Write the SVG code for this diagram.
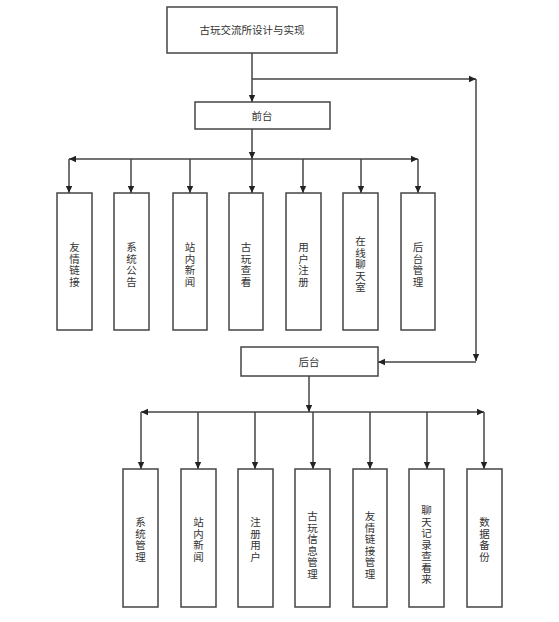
<svg xmlns="http://www.w3.org/2000/svg" width="559" height="622" viewBox="0 0 559 622">
<style>
.box{fill:#fff;stroke:#444;stroke-width:1.5}
.t{font-family:"Liberation Serif","Noto Sans CJK SC",serif;font-size:10.5px;fill:#333;text-anchor:middle}
.c{fill:none;stroke:#444;stroke-width:1.5}
</style>
<defs>
<marker id="ah" markerWidth="8" markerHeight="8" refX="7" refY="4" orient="auto" markerUnits="userSpaceOnUse">
<path d="M0,0.8 L7,4 L0,7.2 Z" fill="#222"/>
</marker>
</defs>
<rect width="559" height="622" fill="#fff"/>
<g id="connectors">
<path class="c" d="M252,53 V102" marker-end="url(#ah)"/>
<path class="c" d="M252,79 H476" marker-end="url(#ah)"/>
<path class="c" d="M476,79 V361" marker-end="url(#ah)"/>
<path class="c" d="M476,362 H378" marker-end="url(#ah)"/>
<path class="c" d="M252,129 V159" marker-end="url(#ah)"/>
<path class="c" d="M252,159 H69" marker-end="url(#ah)"/>
<path class="c" d="M252,159 H418" marker-end="url(#ah)"/>
<path class="c" d="M69,159 V193" marker-end="url(#ah)"/>
<path class="c" d="M131,159 V193" marker-end="url(#ah)"/>
<path class="c" d="M190,159 V193" marker-end="url(#ah)"/>
<path class="c" d="M252,159 V193" marker-end="url(#ah)"/>
<path class="c" d="M303,159 V193" marker-end="url(#ah)"/>
<path class="c" d="M361,159 V193" marker-end="url(#ah)"/>
<path class="c" d="M418,159 V193" marker-end="url(#ah)"/>
<path class="c" d="M309,376 V412" marker-end="url(#ah)"/>
<path class="c" d="M309,412 H141" marker-end="url(#ah)"/>
<path class="c" d="M309,412 H484" marker-end="url(#ah)"/>
<path class="c" d="M141,412 V469" marker-end="url(#ah)"/>
<path class="c" d="M198,412 V469" marker-end="url(#ah)"/>
<path class="c" d="M255,412 V469" marker-end="url(#ah)"/>
<path class="c" d="M313,412 V469" marker-end="url(#ah)"/>
<path class="c" d="M370,412 V469" marker-end="url(#ah)"/>
<path class="c" d="M427,412 V469" marker-end="url(#ah)"/>
<path class="c" d="M484,412 V469" marker-end="url(#ah)"/>
</g>
<g id="root"><rect class="box" x="167" y="7" width="170" height="46"/><text class="t" x="252" y="34">古玩交流所设计与实现</text></g>
<g id="front"><rect class="box" x="195" y="102" width="135" height="27"/><text class="t" x="262" y="120">前台</text></g>
<g id="back"><rect class="box" x="241" y="347" width="137" height="29"/><text class="t" x="309" y="366">后台</text></g>

<g id="f1"><rect class="box" x="57" y="193" width="35" height="137"/><text class="t" x="74.5" y="251"><tspan x="74.5">友</tspan><tspan x="74.5" dy="11.5">情</tspan><tspan x="74.5" dy="11.5">链</tspan><tspan x="74.5" dy="11.5">接</tspan></text></g>
<g id="f2"><rect class="box" x="114" y="193" width="35" height="137"/><text class="t" x="131.5" y="251"><tspan x="131.5">系</tspan><tspan x="131.5" dy="11.5">统</tspan><tspan x="131.5" dy="11.5">公</tspan><tspan x="131.5" dy="11.5">告</tspan></text></g>
<g id="f3"><rect class="box" x="173" y="193" width="34" height="137"/><text class="t" x="190" y="251"><tspan x="190">站</tspan><tspan x="190" dy="11.5">内</tspan><tspan x="190" dy="11.5">新</tspan><tspan x="190" dy="11.5">闻</tspan></text></g>
<g id="f4"><rect class="box" x="229" y="193" width="34" height="137"/><text class="t" x="246" y="251"><tspan x="246">古</tspan><tspan x="246" dy="11.5">玩</tspan><tspan x="246" dy="11.5">查</tspan><tspan x="246" dy="11.5">看</tspan></text></g>
<g id="f5"><rect class="box" x="286" y="193" width="35" height="137"/><text class="t" x="303.5" y="251"><tspan x="303.5">用</tspan><tspan x="303.5" dy="11.5">户</tspan><tspan x="303.5" dy="11.5">注</tspan><tspan x="303.5" dy="11.5">册</tspan></text></g>
<g id="f6"><rect class="box" x="343" y="193" width="35" height="137"/><text class="t" x="360.5" y="245"><tspan x="360.5">在</tspan><tspan x="360.5" dy="11.5">线</tspan><tspan x="360.5" dy="11.5">聊</tspan><tspan x="360.5" dy="11.5">天</tspan><tspan x="360.5" dy="11.5">室</tspan></text></g>
<g id="f7"><rect class="box" x="401" y="193" width="34" height="137"/><text class="t" x="418" y="251"><tspan x="418">后</tspan><tspan x="418" dy="11.5">台</tspan><tspan x="418" dy="11.5">管</tspan><tspan x="418" dy="11.5">理</tspan></text></g>

<g id="b1"><rect class="box" x="123" y="469" width="35" height="138"/><text class="t" x="140.5" y="526"><tspan x="140.5">系</tspan><tspan x="140.5" dy="11.5">统</tspan><tspan x="140.5" dy="11.5">管</tspan><tspan x="140.5" dy="11.5">理</tspan></text></g>
<g id="b2"><rect class="box" x="181" y="469" width="35" height="138"/><text class="t" x="198.5" y="526"><tspan x="198.5">站</tspan><tspan x="198.5" dy="11.5">内</tspan><tspan x="198.5" dy="11.5">新</tspan><tspan x="198.5" dy="11.5">闻</tspan></text></g>
<g id="b3"><rect class="box" x="238" y="469" width="35" height="138"/><text class="t" x="255.5" y="526"><tspan x="255.5">注</tspan><tspan x="255.5" dy="11.5">册</tspan><tspan x="255.5" dy="11.5">用</tspan><tspan x="255.5" dy="11.5">户</tspan></text></g>
<g id="b4"><rect class="box" x="295" y="469" width="35" height="138"/><text class="t" x="312.5" y="520"><tspan x="312.5">古</tspan><tspan x="312.5" dy="11.5">玩</tspan><tspan x="312.5" dy="11.5">信</tspan><tspan x="312.5" dy="11.5">息</tspan><tspan x="312.5" dy="11.5">管</tspan><tspan x="312.5" dy="11.5">理</tspan></text></g>
<g id="b5"><rect class="box" x="353" y="469" width="34" height="138"/><text class="t" x="370" y="520"><tspan x="370">友</tspan><tspan x="370" dy="11.5">情</tspan><tspan x="370" dy="11.5">链</tspan><tspan x="370" dy="11.5">接</tspan><tspan x="370" dy="11.5">管</tspan><tspan x="370" dy="11.5">理</tspan></text></g>
<g id="b6"><rect class="box" x="409" y="469" width="35" height="138"/><text class="t" x="426.5" y="514"><tspan x="426.5">聊</tspan><tspan x="426.5" dy="11.5">天</tspan><tspan x="426.5" dy="11.5">记</tspan><tspan x="426.5" dy="11.5">录</tspan><tspan x="426.5" dy="11.5">查</tspan><tspan x="426.5" dy="11.5">看</tspan><tspan x="426.5" dy="11.5">来</tspan></text></g>
<g id="b7"><rect class="box" x="467" y="469" width="35" height="138"/><text class="t" x="484.5" y="526"><tspan x="484.5">数</tspan><tspan x="484.5" dy="11.5">据</tspan><tspan x="484.5" dy="11.5">备</tspan><tspan x="484.5" dy="11.5">份</tspan></text></g>
</svg>
